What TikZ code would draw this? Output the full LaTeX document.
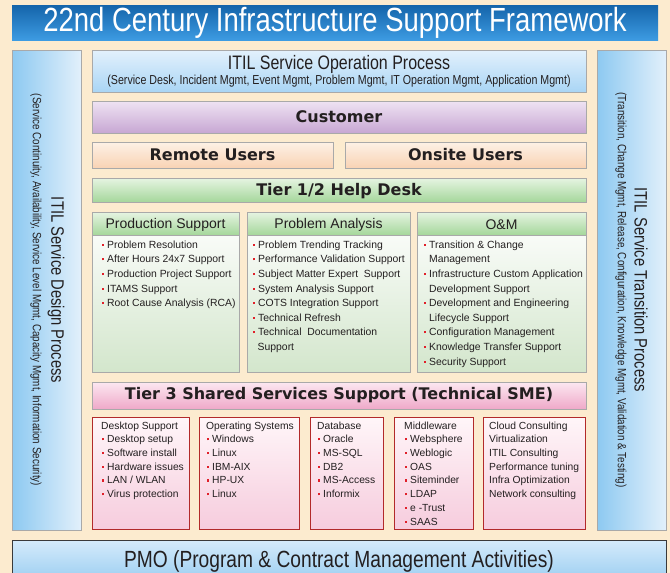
\documentclass[tikz,border=0pt]{standalone}
\usepackage{fontspec}
\setmainfont{Liberation Sans}
\newfontfamily\narrowf[FakeStretch=0.82]{Liberation Sans}
\newfontfamily\dejab{DejaVu Sans}
\definecolor{bgc}{HTML}{FCEBCF}
\definecolor{txt}{HTML}{231F20}
\definecolor{bulred}{HTML}{E0202A}
\definecolor{boxgray}{HTML}{A9A9A9}
\definecolor{ttop}{HTML}{1464AA}
\definecolor{tbot}{HTML}{3D9BE2}
\definecolor{sidel}{HTML}{8DC9F1}
\definecolor{sider}{HTML}{E2F0FB}
\definecolor{optop}{HTML}{E3F1FC}
\definecolor{opbot}{HTML}{A9D5F5}
\definecolor{cutop}{HTML}{EFE3F3}
\definecolor{cubot}{HTML}{C7A7D3}
\definecolor{pctop}{HTML}{FDF1E6}
\definecolor{pcbot}{HTML}{F9D3B4}
\definecolor{grtop}{HTML}{E6F4E2}
\definecolor{grbot}{HTML}{A5D79B}
\definecolor{bodybot}{HTML}{D3E6CC}
\definecolor{pktop}{HTML}{FCE8F1}
\definecolor{pkbot}{HTML}{EFA9C9}
\definecolor{lptop}{HTML}{FFF6F9}
\definecolor{lpbot}{HTML}{F6CCDD}
\definecolor{redbord}{HTML}{B22A2A}
\definecolor{pmotop}{HTML}{D5EBFB}
\definecolor{pmobot}{HTML}{96CBF0}
\definecolor{pmobord}{HTML}{3A3A3A}
\newcommand\bu{\hspace*{0.8pt}\textcolor{bulred}{\rule[2.4pt]{2.1pt}{2.1pt}}\hspace*{3.1pt}}
\begin{document}
\begin{tikzpicture}[x=1pt,y=-1pt,
  blk/.style={draw=boxgray, line width=0.8pt, inner sep=0pt, outer sep=0pt, anchor=north west},
  redblk/.style={draw=redbord, line width=0.9pt, inner sep=0pt, outer sep=0pt, anchor=north west, top color=lptop, bottom color=lpbot},
  boldlbl/.style={font=\dejab\bfseries\fontsize{16}{18}\selectfont, text=txt, inner sep=0pt},
  headlbl/.style={font=\fontsize{14}{16}\selectfont, text=txt, inner sep=0pt},
  biglist/.style={font=\fontsize{10.4}{14.6}\selectfont, text=txt, align=left, anchor=north west, inner sep=0pt},
  smalllist/.style={font=\fontsize{10.3}{13.7}\selectfont, text=txt, align=left, anchor=north west, inner sep=0pt},
  sidemain/.style={font=\narrowf\fontsize{18}{20}\selectfont, text=txt, rotate=-90, inner sep=0pt},
  sidesub/.style={font=\narrowf\fontsize{12}{14}\selectfont, text=txt, rotate=-90, inner sep=0pt}]
\clip (0,0) rectangle (670,573);
\fill[bgc] (0,0) rectangle (670,573);
% title
\node[blk, draw=none, top color=ttop, bottom color=tbot, minimum width=646pt, minimum height=35pt] (title) at (12,5) {};
\node[font=\narrowf\fontsize{33.5}{36}\selectfont, text=white, inner sep=0pt] (titletxt) at (title.center) {22nd Century Infrastructure Support Framework};
% side columns
\node[blk, left color=sidel, right color=sider, minimum width=69pt, minimum height=480pt] (lcol) at (12,50) {};
\node[blk, left color=sidel, right color=sider, minimum width=69pt, minimum height=480pt] (rcol) at (597,50) {};
\node[sidemain] (lmain) at (56,290) {ITIL Service Design Process};
\node[sidesub] (lsub) at (36,290) {(Service Continuity, Availability, Service Level Mgmt, Capacity Mgmt, Information Security)};
\node[sidemain] (rmain) at (641,290) {ITIL Service Transition Process};
\node[sidesub] (rsub) at (621,290) {(Transition, Change Mgmt, Release, Configuration, Knowledge Mgmt, Validation \& Testing)};
% ITIL operation
\node[blk, top color=optop, bottom color=opbot, minimum width=494pt, minimum height=42pt] (itilop) at (92,50) {};
\node[font=\narrowf\fontsize{19.5}{21}\selectfont, text=txt, inner sep=0pt] (itiloptxt) at (339,64) {ITIL Service Operation Process};
\node[font=\narrowf\fontsize{13}{15}\selectfont, text=txt, inner sep=0pt] (itilopsub) at (339,81) {(Service Desk, Incident Mgmt, Event Mgmt, Problem Mgmt, IT Operation Mgmt, Application Mgmt)};
% customer
\node[blk, top color=cutop, bottom color=cubot, minimum width=494pt, minimum height=32pt] (cust) at (92,101) {};
\node[boldlbl] (custtxt) at (cust.center) {Customer};
% users
\node[blk, top color=pctop, bottom color=pcbot, minimum width=241pt, minimum height=26pt] (remote) at (92,142) {};
\node[boldlbl] (remotetxt) at (remote.center) {Remote Users};
\node[blk, top color=pctop, bottom color=pcbot, minimum width=241pt, minimum height=26pt] (onsite) at (345,142) {};
\node[boldlbl] (onsitetxt) at (onsite.center) {Onsite Users};
% tier 1/2
\node[blk, top color=grtop, bottom color=grbot, minimum width=494pt, minimum height=24pt] (tier12) at (92,178) {};
\node[boldlbl] (tier12txt) at ([yshift=-1pt]tier12.center) {Tier 1/2 Help Desk};
% three boxes
\node[blk, top color=white, bottom color=bodybot, minimum width=147pt, minimum height=160pt] (ps) at (92,212) {};
\node[blk, top color=grtop, bottom color=grbot, minimum width=147pt, minimum height=23pt] (pshead) at (92,212) {};
\node[headlbl] (pstxt) at ([yshift=-1.5pt]pshead.center) {Production Support};
\node[blk, top color=white, bottom color=bodybot, minimum width=163pt, minimum height=160pt] (pa) at (247,212) {};
\node[blk, top color=grtop, bottom color=grbot, minimum width=163pt, minimum height=23pt] (pahead) at (247,212) {};
\node[headlbl] (patxt) at ([yshift=-1.5pt]pahead.center) {Problem Analysis};
\node[blk, top color=white, bottom color=bodybot, minimum width=169pt, minimum height=160pt] (om) at (417,212) {};
\node[blk, top color=grtop, bottom color=grbot, minimum width=169pt, minimum height=23pt] (omhead) at (417,212) {};
\node[headlbl] (omtxt) at ([yshift=-1.5pt]omhead.center) {O\&M};
\node[biglist] (pslist) at (101,240.5) {\bu Problem Resolution\\\bu After Hours 24x7 Support\\\bu Production Project Support\\\bu ITAMS Support\\\bu Root Cause Analysis (RCA)};
\node[biglist] (palist) at (252,240.5) {\bu Problem Trending Tracking\\\bu Performance Validation Support\\\bu Subject Matter Expert\ \ Support\\\bu System Analysis Support\\\bu COTS Integration Support\\\bu Technical Refresh\\\bu Technical\ \ Documentation\\\hspace*{5.5pt}Support};
\node[biglist] (omlist) at (423,240.5) {\bu Transition \& Change\\\hspace*{6pt}Management\\\bu Infrastructure Custom Application\\\hspace*{6pt}Development Support\\\bu Development and Engineering\\\hspace*{6pt}Lifecycle Support\\\bu Configuration Management\\\bu Knowledge Transfer Support\\\bu Security Support};
% tier 3
\node[blk, top color=pktop, bottom color=pkbot, minimum width=494pt, minimum height=27pt] (tier3) at (92,382) {};
\node[boldlbl] (tier3txt) at (tier3.center) {Tier 3 Shared Services Support (Technical SME)};
% bottom boxes
\node[redblk, minimum width=97pt, minimum height=112pt] (ds) at (92,417) {};
\node[redblk, minimum width=100pt, minimum height=112pt] (os) at (199,417) {};
\node[redblk, minimum width=73pt, minimum height=112pt] (db) at (310,417) {};
\node[redblk, minimum width=79pt, minimum height=112pt] (mw) at (394,417) {};
\node[redblk, minimum width=102pt, minimum height=112pt] (cc) at (483,417) {};
\node[smalllist] (dslist) at (101,421.5) {Desktop Support\\\bu Desktop setup\\\bu Software install\\\bu Hardware issues\\\bu LAN / WLAN\\\bu Virus protection};
\node[smalllist] (oslist) at (206,421.5) {Operating Systems\\\bu Windows\\\bu Linux\\\bu IBM-AIX\\\bu HP-UX\\\bu Linux};
\node[smalllist] (dblist) at (317,421.5) {Database\\\bu Oracle\\\bu MS-SQL\\\bu DB2\\\bu MS-Access\\\bu Informix};
\node[smalllist] (mwlist) at (404,421.5) {Middleware\\\bu Websphere\\\bu Weblogic\\\bu OAS\\\bu Siteminder\\\bu LDAP\\\bu e -Trust\\\bu SAAS};
\node[smalllist] (cclist) at (489,421.5) {Cloud Consulting\\Virtualization\\ITIL Consulting\\Performance tuning\\Infra Optimization\\Network consulting};
% PMO
\node[blk, draw=pmobord, top color=pmotop, bottom color=pmobot, minimum width=654pt, minimum height=45pt] (pmo) at (12,540) {};
\node[font=\narrowf\fontsize{23.4}{25}\selectfont, text=txt, inner sep=0pt] (pmotxt) at (339,561) {PMO (Program \& Contract Management Activities)};
\end{tikzpicture}
\end{document}
